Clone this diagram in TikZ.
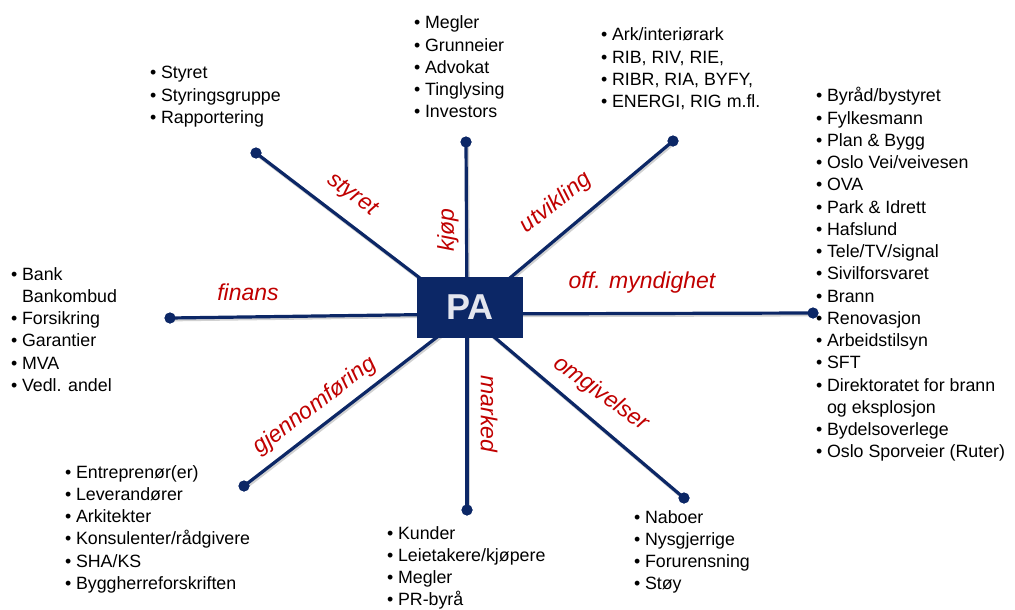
\documentclass[tikz,border=0pt]{standalone}
\usepackage{fontspec}
\setmainfont{Liberation Sans}
\definecolor{navy}{HTML}{0C2766}
\definecolor{lblred}{HTML}{C00000}
\definecolor{patext}{HTML}{E4E6EE}
% bulleted list: first column bullet, second column text
\newcommand{\blist}[1]{\begin{tabular}[t]{@{}l@{\hspace{4.6pt}}l@{}}#1\end{tabular}}
\begin{document}
\begin{tikzpicture}[x=1pt,y=-1pt,
  spoke/.style={draw=navy, line width=3.2pt,
    preaction={draw=black, opacity=0.18, line width=3.6pt,
      transform canvas={shift={(1.2pt,-1.6pt)}}}},
  enddot/.style={circle, fill=navy, inner sep=0pt, minimum size=11pt},
  spokelabel/.style={text=lblred, inner sep=0pt,
    font=\fontsize{23}{27}\selectfont\itshape},
  itemlist/.style={anchor=base west, inner sep=0pt,
    font=\fontsize{17.8}{22.25}\selectfont},
  pabox/.style={fill=navy, draw=none, minimum width=106pt, minimum height=61pt,
    inner sep=0pt, text=patext, font=\fontsize{36}{40}\selectfont\bfseries}]
\useasboundingbox (0,0) rectangle (1015,610);

% hub and spoke ends
\coordinate (hub) at (467,314);
\node[enddot] (dstyret) at (256,153) {};
\node[enddot] (dkjop)   at (466,142) {};
\node[enddot] (dutv)    at (673,141) {};
\node[enddot] (doff)    at (813,313) {};
\node[enddot] (dfin)    at (170,318) {};
\node[enddot] (dgjen)   at (244,486) {};
\node[enddot] (dmark)   at (467,510) {};
\node[enddot] (domg)    at (684,498) {};

% spokes
\foreach \d in {dstyret,dkjop,dutv,doff,dfin,dgjen,dmark,domg}
  \draw[spoke] (hub) -- (\d.center);
\foreach \d in {dstyret,dkjop,dutv,doff,dfin,dgjen,dmark,domg}
  \fill[navy] (\d.center) circle (5.5pt);

% centre box
\node[pabox] (pa) at (470,307.5) {PA};

% spoke labels
\node[spokelabel, rotate=-37] (lstyret) at (352,195) {styret};
\node[spokelabel, rotate=90]  (lkjop)   at (448,230) {kjøp};
\node[spokelabel, rotate=38]  (lutv)    at (556,203) {utvikling};
\node[spokelabel]             (loff)    at (642,283) {off. myndighet};
\node[spokelabel]             (lfin)    at (248,292) {finans};
\node[spokelabel, rotate=37]  (lgjen)   at (315,406) {gjennomføring};
\node[spokelabel, rotate=-90] (lmark)   at (489,414) {marked};
\node[spokelabel, rotate=-36] (lomg)    at (601,394) {omgivelser};

% item lists
\node[itemlist] (tstyret) at (150,79) {\blist{
  • & Styret\\ • & Styringsgruppe\\ • & Rapportering}};
\node[itemlist] (tkjop) at (414,29) {\blist{
  • & Megler\\ • & Grunneier\\ • & Advokat\\ • & Tinglysing\\ • & Investors}};
\node[itemlist] (tutv) at (601,41) {\blist{
  • & Ark/interiørark\\ • & RIB, RIV, RIE,\\ • & RIBR, RIA, BYFY,\\ • & ENERGI, RIG m.fl.}};
\node[itemlist] (toff) at (816,102) {\blist{
  • & Byråd/bystyret\\ • & Fylkesmann\\ • & Plan \& Bygg\\ • & Oslo Vei/veivesen\\
  • & OVA\\ • & Park \& Idrett\\ • & Hafslund\\ • & Tele/TV/signal\\
  • & Sivilforsvaret\\ • & Brann\\ • & Renovasjon\\ • & Arbeidstilsyn\\
  • & SFT\\ • & Direktoratet for brann\\ & og eksplosjon\\
  • & Bydelsoverlege\\ • & Oslo Sporveier (Ruter)}};
\node[itemlist] (tfin) at (11,280) {\blist{
  • & Bank\\ & Bankombud\\ • & Forsikring\\ • & Garantier\\ • & MVA\\ • & Vedl. andel}};
\node[itemlist] (tgjen) at (65,478) {\blist{
  • & Entreprenør(er)\\ • & Leverandører\\ • & Arkitekter\\
  • & Konsulenter/rådgivere\\ • & SHA/KS\\ • & Byggherreforskriften}};
\node[itemlist] (tmark) at (387,539) {\blist{
  • & Kunder\\ • & Leietakere/kjøpere\\ • & Megler\\ • & PR-byrå}};
\node[itemlist] (tomg) at (634,523) {\blist{
  • & Naboer\\ • & Nysgjerrige\\ • & Forurensning\\ • & Støy}};
\end{tikzpicture}
\end{document}
